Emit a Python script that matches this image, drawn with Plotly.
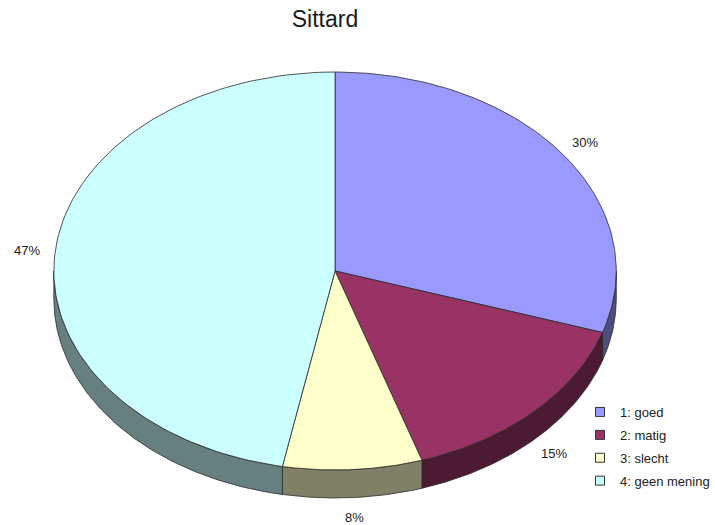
import numpy as np
import plotly.graph_objects as go

# ---- data ----
categories = ["1: goed", "2: matig", "3: slecht", "4: geen mening"]
values = [30, 15, 8, 47]
top_colors = ["#9999FF", "#993366", "#FFFFCC", "#CCFFFF"]
side_colors = ["#4D4D80", "#4D1A33", "#808066", "#668080"]
title_text = "Sittard"

# ---- geometry of the tilted pie (pixel space) ----
CX, CY = 336, 271
A, B = 282, 199
DEPTH = 28
EDGE = "#2a2a2a"

fig = go.Figure()

total = float(sum(values))
cum = np.concatenate([[0], np.cumsum(values)]) / total
t_start = 90 - 360 * cum[:-1]
t_end = 90 - 360 * cum[1:]


def arc(t1, t2, n=120):
    t = np.radians(np.linspace(t1, t2, n))
    return CX + A * np.cos(t), CY - B * np.sin(t)

# side walls (visible front half: t in [-180, 0])
for i in range(len(values)):
    hi = min(t_start[i], 0)
    lo = max(t_end[i], -180)
    if hi <= lo:
        continue
    xs, ys = arc(hi, lo)
    px = np.concatenate([xs, xs[::-1], xs[:1]])
    py = np.concatenate([ys, ys[::-1] + DEPTH, ys[:1]])
    fig.add_trace(go.Scatter(x=px, y=py, fill="toself", mode="lines",
                             fillcolor=side_colors[i],
                             line=dict(color=EDGE, width=0.8),
                             hoverinfo="skip", showlegend=False))

# top faces
for i in range(len(values)):
    xs, ys = arc(t_start[i], t_end[i])
    px = np.concatenate([[CX], xs, [CX]])
    py = np.concatenate([[CY], ys, [CY]])
    fig.add_trace(go.Scatter(x=px, y=py, fill="toself", mode="lines",
                             fillcolor=top_colors[i],
                             line=dict(color=EDGE, width=0.8),
                             hoverinfo="skip", showlegend=False))

# percentage labels
for i in range(len(values)):
    tm = np.radians((t_start[i] + t_end[i]) / 2)
    lx = CX + 1.1 * A * np.cos(tm)
    ly = CY - 1.1 * B * np.sin(tm) + (DEPTH if np.sin(tm) < 0 else 0)
    fig.add_annotation(x=lx, y=ly, text=f"{round(values[i] / total * 100)}%",
                       showarrow=False, xref="x", yref="y",
                       font=dict(family="Liberation Sans, Arial", size=13, color="#1a1a1a"))

# legend entries
for i, name in enumerate(categories):
    fig.add_trace(go.Scatter(x=[None], y=[None], mode="markers", name=name,
                             legendgroup=f"g{i}",
                             marker=dict(symbol="square", size=9, color=top_colors[i],
                                         line=dict(color="#333333", width=1))))

fig.update_layout(
    width=715, height=525,
    margin=dict(l=0, r=0, t=0, b=0),
    paper_bgcolor="white", plot_bgcolor="white",
    xaxis=dict(range=[0, 715], visible=False, showgrid=False, zeroline=False, fixedrange=True),
    yaxis=dict(range=[525, 0], visible=False, showgrid=False, zeroline=False, fixedrange=True),
    title=dict(text=title_text, x=325 / 715, xanchor="center", y=1 - 19 / 525,
               yanchor="middle", yref="container",
               font=dict(family="Liberation Sans, Arial", size=23, color="#1a1a1a")),
    legend=dict(x=582 / 715, y=1 - 397 / 525, xanchor="left", yanchor="top",
                bgcolor="rgba(255,255,255,0)", borderwidth=0, tracegroupgap=3,
                font=dict(family="Liberation Sans, Arial", size=13, color="#222222")),
    showlegend=True,
)

fig.write_html("out.html")
